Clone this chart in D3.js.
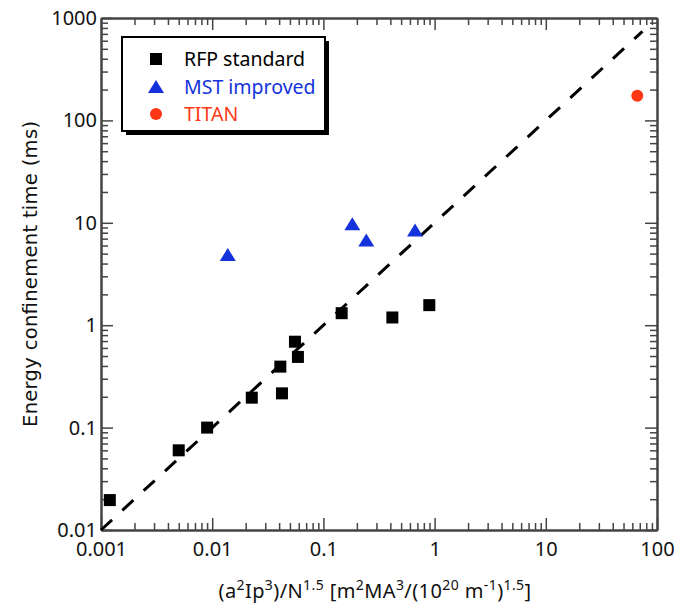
<!DOCTYPE html>
<html>
<head>
<meta charset="utf-8">
<script src="https://cdn.jsdelivr.net/npm/d3@7"></script>
<style>
  body { margin: 0; background: #fff; }
  text { font-family: "Noto Sans", sans-serif; }
</style>
</head>
<body>
<script>

// RFP standard (black squares)
var rfpX = [0.0012, 0.005, 0.009, 0.0227, 0.041, 0.0424, 0.0555, 0.059, 0.146, 0.417, 0.896];
var rfpY = [0.0196, 0.06, 0.1, 0.196, 0.394, 0.216, 0.69, 0.49, 1.31, 1.19, 1.57];

// MST improved (blue triangles)
var mstX = [0.0138, 0.182, 0.243, 0.667];
var mstY = [4.85, 9.7, 6.7, 8.4];

// TITAN (red circle)
var titanX = [66.5];
var titanY = [174];

// scaling line tau = 10 * x
var fitX = [0.001, 74];
var fitY = [0.01, 740];

var xTicks = [0.001, 0.01, 0.1, 1, 10, 100];
var xTickLabels = ["0.001", "0.01", "0.1", "1", "10", "100"];
var yTicks = [0.01, 0.1, 1, 10, 100, 1000];
var yTickLabels = ["0.01", "0.1", "1", "10", "100", "1000"];

var legendNames = ["RFP standard", "MST improved", "TITAN"];
var blue = "#1432dc", red = "#ff3714", axisCol = "#444";

var width = 679, height = 612;
var pLeft = 101, pRight = 657, pTop = 18, pBottom = 530;

var svg = d3.select("body").append("svg")
  .attr("width", width)
  .attr("height", height);

var x = d3.scaleLog().domain([0.001, 100]).range([pLeft, pRight]);
var y = d3.scaleLog().domain([0.01, 1000]).range([pBottom, pTop]);

var minors = function(lo, hi){
  var out = [];
  for (var p = lo; p < hi; p++)
    for (var k = 2; k <= 9; k++) out.push(k * Math.pow(10, p));
  return out;
};
var xMinor = minors(-3, 2);
var yMinor = minors(-2, 3);

var fmtX = function(d){ return xTickLabels[xTicks.indexOf(d)]; };
var fmtY = function(d){ return yTickLabels[yTicks.indexOf(d)]; };

function styleAxis(g){
  g.select(".domain").attr("stroke", axisCol).attr("stroke-width", 2);
  g.selectAll(".tick line").attr("stroke", axisCol).attr("stroke-width", 1.5);
  g.selectAll(".tick text").attr("fill", "#111")
    .style("font-size", "20px").style("font-family", "'Noto Sans', sans-serif");
}

// bottom
svg.append("g").attr("transform", "translate(0," + pBottom + ")")
  .call(d3.axisBottom(x).tickValues(xMinor).tickSize(-7).tickSizeOuter(0).tickFormat(""))
  .call(styleAxis);
svg.append("g").attr("transform", "translate(0," + pBottom + ")")
  .call(d3.axisBottom(x).tickValues(xTicks).tickSize(-12).tickSizeOuter(0).tickPadding(12).tickFormat(fmtX))
  .call(styleAxis);
// top
svg.append("g").attr("transform", "translate(0," + pTop + ")")
  .call(d3.axisTop(x).tickValues(xMinor).tickSize(-7).tickSizeOuter(0).tickFormat(""))
  .call(styleAxis);
svg.append("g").attr("transform", "translate(0," + pTop + ")")
  .call(d3.axisTop(x).tickValues(xTicks).tickSize(-12).tickSizeOuter(0).tickFormat(""))
  .call(styleAxis);
// left
svg.append("g").attr("transform", "translate(" + pLeft + ",0)")
  .call(d3.axisLeft(y).tickValues(yMinor).tickSize(-7).tickSizeOuter(0).tickFormat(""))
  .call(styleAxis);
svg.append("g").attr("transform", "translate(" + pLeft + ",0)")
  .call(d3.axisLeft(y).tickValues(yTicks).tickSize(-12).tickSizeOuter(0).tickPadding(4).tickFormat(fmtY))
  .call(styleAxis);
// right
svg.append("g").attr("transform", "translate(" + pRight + ",0)")
  .call(d3.axisRight(y).tickValues(yMinor).tickSize(-7).tickSizeOuter(0).tickFormat(""))
  .call(styleAxis);
svg.append("g").attr("transform", "translate(" + pRight + ",0)")
  .call(d3.axisRight(y).tickValues(yTicks).tickSize(-12).tickSizeOuter(0).tickFormat(""))
  .call(styleAxis);

// dashed scaling line
svg.append("path")
  .datum(d3.zip(fitX, fitY))
  .attr("d", d3.line().x(function(d){ return x(d[0]); }).y(function(d){ return y(d[1]); }))
  .attr("fill", "none")
  .attr("stroke", "#000")
  .attr("stroke-width", 3)
  .attr("stroke-dasharray", "15,14");

// RFP squares
svg.selectAll("rect.rfp").data(d3.zip(rfpX, rfpY)).enter().append("rect")
  .attr("class", "rfp")
  .attr("x", function(d){ return x(d[0]) - 6; })
  .attr("y", function(d){ return y(d[1]) - 6; })
  .attr("width", 12)
  .attr("height", 12)
  .attr("fill", "#000");

// MST triangles
svg.selectAll("path.mst").data(d3.zip(mstX, mstY)).enter().append("path")
  .attr("class", "mst")
  .attr("d", "M0,-7L8,6L-8,6Z")
  .attr("transform", function(d){ return "translate(" + x(d[0]) + "," + y(d[1]) + ")"; })
  .attr("fill", blue);

// TITAN
svg.selectAll("circle.titan").data(d3.zip(titanX, titanY)).enter().append("circle")
  .attr("class", "titan")
  .attr("cx", function(d){ return x(d[0]); })
  .attr("cy", function(d){ return y(d[1]); })
  .attr("r", 6)
  .attr("fill", red);

// legend
var lg = svg.append("g");
lg.append("rect").attr("x", 126).attr("y", 41).attr("width", 203).attr("height", 94).attr("fill", "#000");
lg.append("rect").attr("x", 122).attr("y", 37).attr("width", 203).attr("height", 94)
  .attr("fill", "#fff").attr("stroke", "#000").attr("stroke-width", 2);

var rowY = [59, 87, 114];
lg.append("rect").attr("x", 150).attr("y", rowY[0] - 6).attr("width", 12).attr("height", 12).attr("fill", "#000");
lg.append("path").attr("d", "M0,-7L8,6L-8,6Z").attr("transform", "translate(156," + rowY[1] + ")").attr("fill", blue);
lg.append("circle").attr("cx", 156).attr("cy", rowY[2]).attr("r", 6).attr("fill", red);

var legendCols = ["#000", blue, red];
lg.selectAll("text").data(legendNames).enter().append("text")
  .attr("x", 184)
  .attr("y", function(d, i){ return rowY[i] + 7; })
  .attr("fill", function(d, i){ return legendCols[i]; })
  .style("font-size", "19.5px")
  .text(function(d){ return d; });

// y label
svg.append("text")
  .attr("transform", "translate(37,274) rotate(-90)")
  .attr("text-anchor", "middle")
  .attr("fill", "#111")
  .attr("textLength", 306)
  .attr("lengthAdjust", "spacing")
  .style("font-family", "'DejaVu Sans', sans-serif")
  .style("font-size", "19.5px")
  .text("Energy confinement time (ms)");

// x label with superscripts
var xl = svg.append("text")
  .attr("x", (pLeft + pRight) / 2 - 4)
  .attr("y", 598)
  .attr("text-anchor", "middle")
  .attr("fill", "#111")
  .style("letter-spacing", "0.4px")
  .style("font-size", "20px");
var parts = [["(a", 0], ["2", 1], ["Ip", 0], ["3", 1], [")/N", 0], ["1.5", 1], [" [m", 0], ["2", 1],
             ["MA", 0], ["3", 1], ["/(10", 0], ["20", 1], [" m", 0], ["-1", 1], [")", 0], ["1.5", 1], ["]", 0]];
var prev = 0;
parts.forEach(function(p){
  var shift = p[1] ? -8 : 0;
  xl.append("tspan")
    .attr("dy", shift - prev)
    .style("font-size", p[1] ? "14px" : "20px")
    .text(p[0]);
  prev = shift;
});

</script>
</body>
</html>
